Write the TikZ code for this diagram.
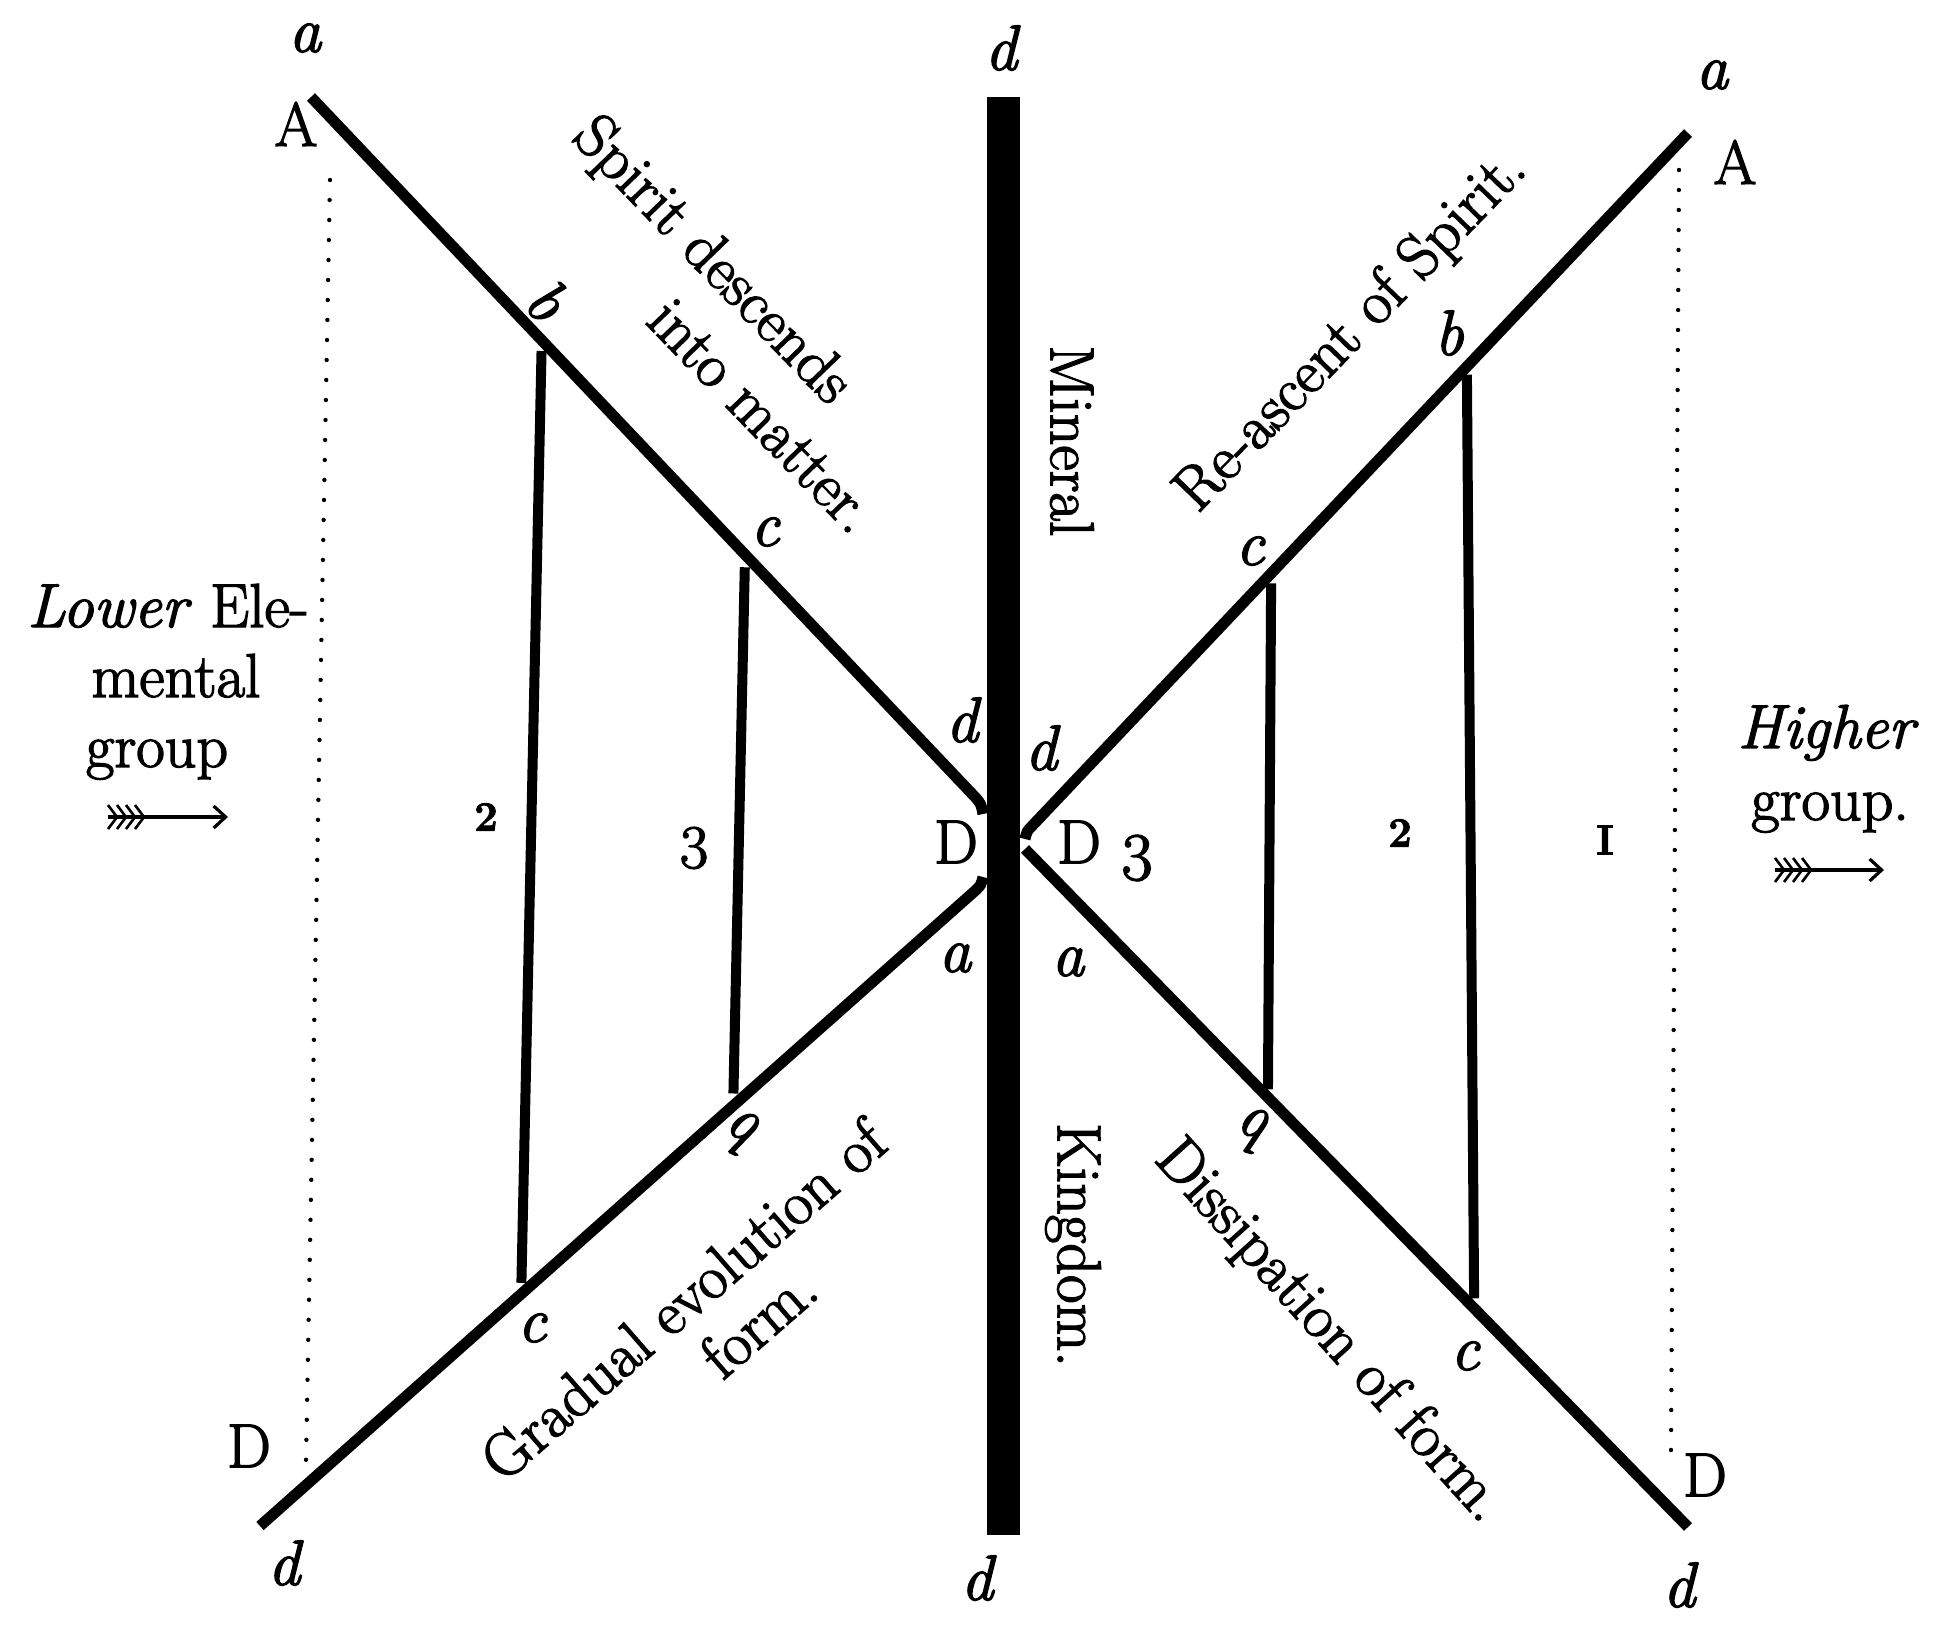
\documentclass[tikz,border=0pt]{standalone}
\usepackage{fontspec}
\setmainfont{Latin Modern Roman}[FakeBold=2.2]
\usetikzlibrary{arrows.meta,intersections}
\begin{document}
\begin{tikzpicture}[x=0.5pt,y=-0.5pt,
  diag/.style={line width=5.5pt},
  vrule/.style={line width=5pt},
  dotrule/.style={line width=2.2pt,line cap=round,dash pattern=on 0pt off 10pt},
  rml/.style={font=\fontsize{31}{35}\selectfont,inner sep=0pt},
  itl/.style={font=\fontsize{32}{36}\selectfont\itshape,inner sep=0pt},
  numl/.style={font=\fontsize{21}{24}\selectfont\bfseries,inner sep=0pt},
  fletch/.style={line width=1.3pt},
  shaft/.style={line width=1.6pt,-{Straight Barb[length=6pt,width=11pt]}}
]
\fill[white] (0,0) rectangle (1950,1631);
\useasboundingbox (0,0) rectangle (1950,1631);

% central bar
\coordinate (barTL) at (987,97);
\coordinate (barBR) at (1020,1535);
\fill[black] (barTL) rectangle (barBR);

% diagonals
\coordinate (ULs) at (311,97);   \coordinate (ULm) at (976,798);  \coordinate (ULe) at (983,814);
\coordinate (URs) at (1688,133); \coordinate (URm) at (1032,826); \coordinate (URe) at (1025,839);
\coordinate (LLs) at (983,877);  \coordinate (LLm) at (976,890);  \coordinate (LLe) at (260,1526);
\coordinate (LRs) at (1025,849); \coordinate (LRe) at (1688,1527);
\draw[diag,name path=UL] (ULs) -- (ULm) .. controls (981,804) .. (ULe);
\draw[diag,name path=UR] (URs) -- (URm) .. controls (1027,831) .. (URe);
\draw[diag,name path=LL] (LLs) .. controls (981,885) .. (LLm) -- (LLe);
\draw[diag,name path=LR] (LRs) -- (LRe);

% vertical rules between the diagonals
\path[name path=vL2] (548.7,0) -- (514.3,1631);
\path[name path=vL3] (756.2,0) -- (722.6,1631);
\path[name path=vR3] (1274.6,0) -- (1264.7,1631);
\path[name path=vR2] (1464.1,0) -- (1476.6,1631);
\path[name intersections={of=UL and vL2,by=L2top}];
\path[name intersections={of=LL and vL2,by=L2bot}];
\path[name intersections={of=UL and vL3,by=L3top}];
\path[name intersections={of=LL and vL3,by=L3bot}];
\path[name intersections={of=UR and vR3,by=R3top}];
\path[name intersections={of=LR and vR3,by=R3bot}];
\path[name intersections={of=UR and vR2,by=R2top}];
\path[name intersections={of=LR and vR2,by=R2bot}];
\draw[vrule] ([yshift=-5.5pt]L2top) -- ([yshift=5.5pt]L2bot);
\draw[vrule] ([yshift=-6.5pt]L3top) -- ([yshift=6pt]L3bot);
\draw[vrule] ([yshift=-5pt]R3top) -- ([yshift=4pt]R3bot);
\draw[vrule] ([yshift=-4pt]R2top) -- ([yshift=5pt]R2bot);

% dotted lines
\coordinate (DLt) at (330,180);  \coordinate (DLb) at (306,1461);
\coordinate (DRt) at (1679,170); \coordinate (DRb) at (1671,1450);
\draw[dotrule] (DLt) -- (DLb);
\draw[dotrule] (DRt) -- (DRb);

% letters
\node[itl] (aTL) at (305,38) {a};
\node[rml] (ATL) at (296,124) {A};
\node[itl] (dTop) at (1001,48) {d};
\node[itl] (aTR) at (1712,75) {a};
\node[rml] (ATR) at (1735,162) {A};
\node[itl,rotate=-45] (bUL) at (547,300) {b};
\node[itl] (cUL) at (765,532) {c};
\node[itl] (bUR) at (1449,333) {b};
\node[itl] (cUR) at (1250,551) {c};
\node[itl] (dCL) at (962,720) {d};
\node[itl] (dCR) at (1041,748) {d};
\node[rml] (DCL) at (956,842) {D};
\node[rml] (DCR) at (1079,842) {D};
\node[itl] (aCL) at (955,958) {a};
\node[itl] (aCR) at (1068,962) {a};
\node[numl] (n2L) at (486,817) {2};
\node[rml] (n3L) at (694,848) {3};
\node[rml,font=\fontsize{34}{38}\selectfont] (n3R) at (1137,858) {3};
\node[numl] (n2R) at (1400,833) {2};
\node[numl] (n1R) at (1605,840) {I};
\node[itl,rotate=150] (bLL) at (744,1135) {b};
\node[itl] (cLL) at (532,1328) {c};
\node[itl,rotate=160] (bLR) at (1256,1132) {b};
\node[itl] (cLR) at (1465,1356) {c};
\node[rml] (DBL) at (249,1446) {D};
\node[itl] (dBL) at (284,1563) {d};
\node[itl] (dBot) at (977,1578) {d};
\node[rml] (DBR) at (1705,1475) {D};
\node[itl] (dBR) at (1679,1585) {d};

% rotated captions
\node[rml,rotate=-46] (sd1) at (711,262) {Spirit descends};
\node[rml,rotate=-46] (sd2) at (762,416) {into matter.};
\node[rml,rotate=46] (ras) at (1352,332) {Re-ascent of Spirit.};
\node[rml,rotate=-90] (minl) at (1072,441) {Mineral};
\node[rml,rotate=-90] (king) at (1073,1245) {Kingdom.};
\node[rml,rotate=41] (ge1) at (683,1300) {Gradual evolution of};
\node[rml,rotate=41] (ge2) at (758,1322) {form.};
\node[rml,rotate=-48] (dis) at (1329,1332) {Dissipation of form.};

% side groups
\node[rml,anchor=base] (low1) at (168,627) {\textit{Lower} Ele-};
\node[rml,anchor=base] (low2) at (176,697) {mental};
\node[rml,anchor=base] (low3) at (157,767) {group};
\node[rml,anchor=base] (hig1) at (1828,748) {\textit{Higher}};
\node[rml,anchor=base] (hig2) at (1830,820) {group.};

% arrows
\coordinate (arL0) at (108,817); \coordinate (arL1) at (228,817);
\draw[shaft] (arL0) -- (arL1);
\foreach \dx in {0,9,18,27} {
  \draw[fletch] (108+\dx,805) -- (117+\dx,817) -- (108+\dx,829);
}
\coordinate (arR0) at (1775,870); \coordinate (arR1) at (1884,870);
\draw[shaft] (arR0) -- (arR1);
\foreach \dx in {0,9,18,27} {
  \draw[fletch] (1775+\dx,858) -- (1784+\dx,870) -- (1775+\dx,882);
}
\end{tikzpicture}
\end{document}
